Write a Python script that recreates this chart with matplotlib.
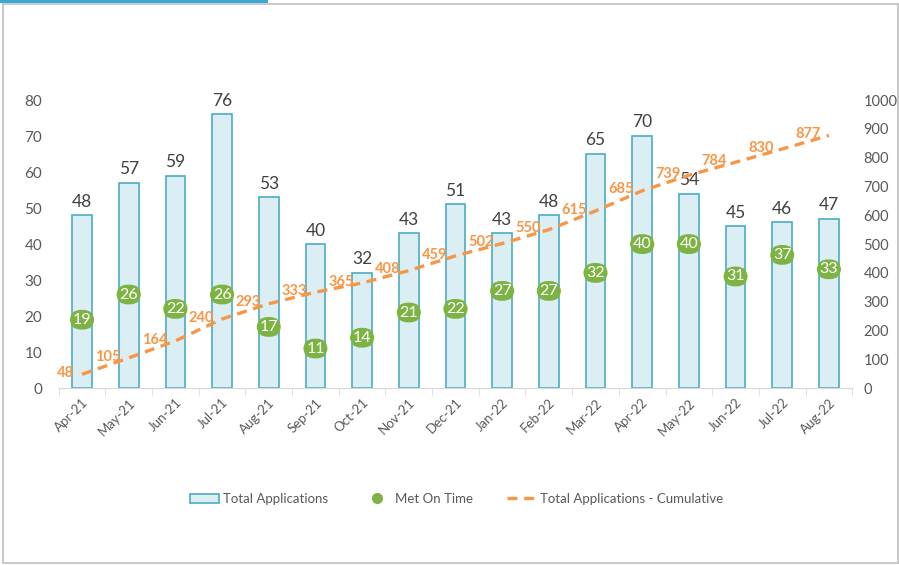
import matplotlib
matplotlib.use("Agg")
import numpy as np
from matplotlib import pyplot as plt
from matplotlib.lines import Line2D
from matplotlib.patches import Patch, Rectangle

plt.rcParams['font.family'] = ['Lato', 'DejaVu Sans']

months = ['Apr-21', 'May-21', 'Jun-21', 'Jul-21', 'Aug-21', 'Sep-21', 'Oct-21',
          'Nov-21', 'Dec-21', 'Jan-22', 'Feb-22', 'Mar-22', 'Apr-22', 'May-22',
          'Jun-22', 'Jul-22', 'Aug-22']
total_apps = [48, 57, 59, 76, 53, 40, 32, 43, 51, 43, 48, 65, 70, 54, 45, 46, 47]
met_on_time = [19, 26, 22, 26, 17, 11, 14, 21, 22, 27, 27, 32, 40, 40, 31, 37, 33]
cumulative = [48, 105, 164, 240, 293, 333, 365, 408, 459, 502, 550, 615, 685,
              739, 784, 830, 877]

bar_fill = '#DAEEF3'
bar_edge = '#4BACC6'
green = '#7CB342'
orange = '#F79646'
grey = '#595959'

fig = plt.figure(figsize=(8.99, 5.65), dpi=100)

# chart frame
fig.patches.append(Rectangle((0.0035, 0.004), 0.995, 0.989, transform=fig.transFigure,
                             fill=False, edgecolor='#BFBFBF', linewidth=1.2))
fig.patches.append(Rectangle((0, 0.994), 0.298, 0.006, transform=fig.transFigure,
                             facecolor='#3BA9D6', edgecolor='none'))

ax = fig.add_axes([0.0653, 0.313, 0.8827, 0.51])
ax2 = ax.twinx()

x = np.arange(len(months))
ax.bar(x, total_apps, width=0.42, color=bar_fill, edgecolor=bar_edge, linewidth=1.2)
for xi, v in zip(x, total_apps):
    ax.annotate(str(v), (xi, v), xytext=(0, 4), textcoords='offset points',
                ha='center', va='bottom', fontsize=12.5, color='#404040')

ax.plot(x, met_on_time, 'o', color=green, markersize=2)
for xi, v in zip(x, met_on_time):
    ax.text(xi, v, str(v), ha='center', va='center', fontsize=11.5, color='white',
            bbox=dict(boxstyle='round,pad=0.18,rounding_size=0.7', fc=green, ec='none'))

ax2.plot(x, cumulative, '--', color=orange, linewidth=2.4, dashes=(3, 2), zorder=2)
for xi, v in zip(x, cumulative):
    ax2.annotate(str(v), (xi, v), xytext=(-6, 1), textcoords='offset points',
                 ha='right', va='center', fontsize=10.5, color=orange,
                 fontweight='bold', zorder=5)

ax.set_xlim(-0.5, len(months) - 0.5)
ax.set_ylim(0, 80)
ax.set_yticks(range(0, 81, 10))
ax2.set_ylim(0, 1000)
ax2.set_yticks(range(0, 1001, 100))

ax.set_xticks(x)
ax.set_xticklabels(months, rotation=45, ha='right', rotation_mode='anchor',
                   fontsize=9.5, color=grey)
ax.tick_params(axis='x', length=0, pad=6)
ax.set_xticks(np.arange(-0.5, len(months), 1), minor=True)
ax.tick_params(axis='x', which='minor', length=5, color='#D9D9D9')
ax.tick_params(axis='y', length=0, labelsize=11, labelcolor=grey, pad=12)
ax2.tick_params(axis='y', length=0, labelsize=10.5, labelcolor=grey, pad=8)

for a in (ax, ax2):
    for s in ('top', 'left', 'right'):
        a.spines[s].set_visible(False)
    a.spines['bottom'].set_color('#D9D9D9')

handles = [Patch(facecolor=bar_fill, edgecolor=bar_edge, linewidth=1.2),
           Line2D([], [], marker='o', linestyle='none', color=green, markersize=7),
           Line2D([], [], linestyle='--', color=orange, linewidth=2.4, dashes=(3, 2))]
labels = ['Total Applications', 'Met On Time', 'Total Applications - Cumulative']
fig.legend(handles, labels, loc='center', bbox_to_anchor=(0.508, 0.117), ncol=3,
           frameon=False, fontsize=9.5, labelcolor=grey, columnspacing=2.6,
           handlelength=2.2, handletextpad=0.3)

fig.savefig('out.png', dpi=100)
